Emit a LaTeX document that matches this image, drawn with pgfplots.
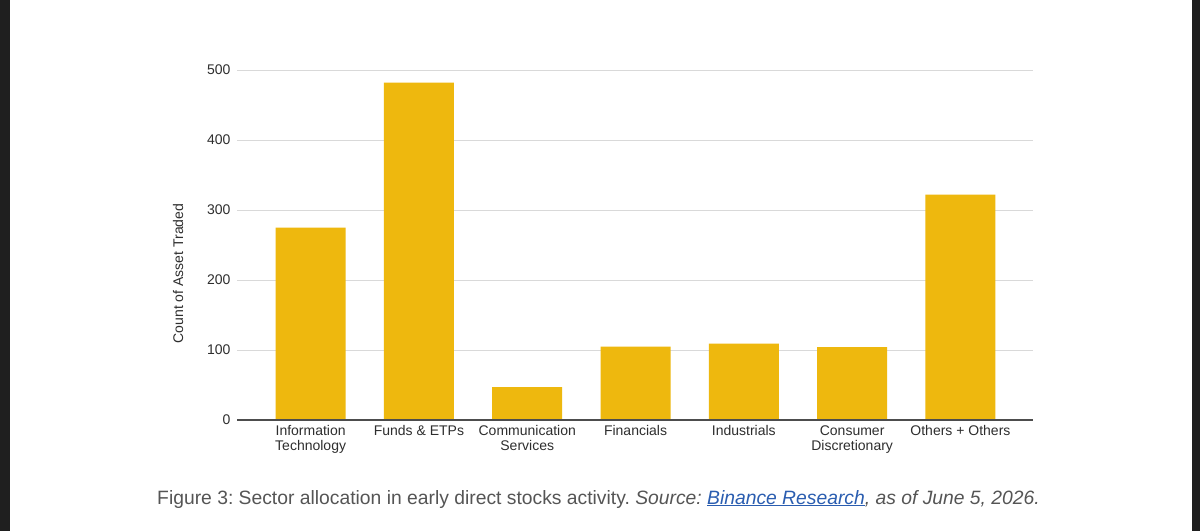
\documentclass[border=0pt]{standalone}
\usepackage{fontspec}
\setmainfont{Liberation Sans}
\usepackage{pgfplots}
\pgfplotsset{compat=1.18}
\definecolor{baryellow}{HTML}{EEB80E}
\definecolor{txtgray}{HTML}{2E2E2E}
\definecolor{gridgray}{HTML}{D9D9D9}
\definecolor{capgray}{HTML}{555555}
\definecolor{linkblue}{HTML}{2A5DB0}
\frenchspacing
\begin{document}
\begin{tikzpicture}[x=1pt,y=1pt]
\fill[black!88] (0,0) rectangle (1200,531);
\fill[white] (9.5,0) rectangle (1191.5,531);
\begin{axis}[
  at={(237pt,111pt)}, anchor=south west,
  scale only axis, width=796pt, height=350pt,
  xmin=-0.68, xmax=6.67, ymin=0, ymax=500,
  axis line style={draw=none},
  major tick length=0pt, tick style={draw=none},
  ytick={0,100,200,300,400,500},
  ymajorgrids, grid style={gridgray, line width=0.9pt},
  xtick={0,1,2,3,4,5,6},
  xticklabels={{Information\\Technology},{Funds \& ETPs},{Communication\\Services},{Financials},{Industrials},{Consumer\\Discretionary},{Others + Others}},
  xticklabel style={align=center, anchor=north, text=txtgray, font=\fontsize{14}{15}\selectfont, yshift=-2pt},
  yticklabel style={text=txtgray, font=\fontsize{14}{15}\selectfont, xshift=-3pt},
  /pgf/number format/assume math mode=true,
  clip=false,
]
\addplot[ybar, fill=baryellow, draw=none, bar width=70pt] coordinates {(0,275) (1,482) (2,47) (3,105) (4,109) (5,104) (6,322)};
\draw[txtgray!85, line width=1.3pt] (rel axis cs:0,0) -- (rel axis cs:1,0);
\end{axis}
\node[rotate=90, text=txtgray, font=\fontsize{14}{15}\selectfont] at (178,257.5) {Count of Asset Traded};
\node[anchor=base, text=capgray, font=\fontsize{19.3}{20}\selectfont] at (598.5,27) {Figure 3: Sector allocation in early direct stocks activity. \textit{Source: \textcolor{linkblue}{\underline{Binance Research}}, as of June 5, 2026.}};
\end{tikzpicture}
\end{document}
